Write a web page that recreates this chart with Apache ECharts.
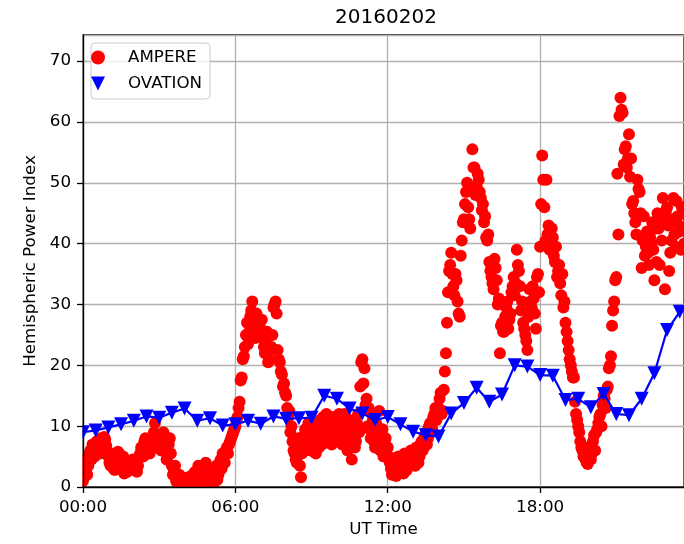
<!DOCTYPE html>
<html>
<head>
<meta charset="utf-8">
<script src="https://cdn.jsdelivr.net/npm/echarts@6/dist/echarts.min.js"></script>
<style>
  html, body { margin: 0; padding: 0; background: #ffffff; }
  #chart { width: 684px; height: 544px; }
</style>
</head>
<body>
<div id="chart"></div>
<script>
// Day shown in the title
const dateLabel = '20160202';

// AMPERE hemispheric power index (GW), samples on the 5-minute marks from 00:00 UT
const ampereStepMin = 5;
const ampereHPI = [
  1.0, 3.0, 2.0, 5.5, 4.5, 6.5, 6.0, 7.0, 5.5, 7.5, 8.2, 6.8,          // 00h
  5.0, 3.5, 4.5, 2.8, 3.2, 5.5, 4.0, 5.0, 3.0, 2.5, 4.0, 3.0,          // 01h
  3.0, 4.5, 3.5, 5.5, 6.5, 7.5, 6.0, 7.0, 8.0, 6.5, 10.5, 7.5,         // 02h
  8.5, 6.0, 9.0, 7.5, 5.0, 8.0, 3.5, 2.5, 1.0, 1.5, 0.5, 1.2,          // 03h
  0.5, 1.0, 0.3, 1.8, 0.8, 2.5, 1.2, 0.6, 3.0, 1.5, 4.0, 2.0,          // 04h
  1.0, 2.5, 0.8, 3.5, 2.0, 4.5, 5.5, 4.0, 6.5, 7.0, 8.0, 9.0,          // 05h
  10.0, 11.5, 14.0, 18.0, 21.5, 25.0, 23.5, 28.0, 30.5, 26.0, 28.5, 27.0, // 06h
  26.0, 24.5, 22.0, 25.5, 21.0, 23.0, 29.5, 30.5, 22.5, 20.5, 18.5, 17.0, // 07h
  15.0, 11.5, 9.0, 7.5, 5.5, 4.0, 8.0, 1.6, 6.5, 9.5, 7.5, 10.0,       // 08h
  6.0, 9.5, 5.5, 8.0, 11.0, 7.0, 10.0, 12.0, 8.5, 9.5, 11.5, 7.5,      // 09h
  9.0, 12.0, 10.5, 8.0, 11.0, 6.0, 9.5, 4.5, 10.0, 7.5, 12.0, 16.5,    // 10h
  21.0, 19.5, 14.5, 13.0, 8.0, 11.0, 6.5, 9.0, 12.5, 7.0, 5.0, 8.0,    // 11h
  6.5, 4.0, 2.0, 3.0, 1.8, 5.0, 2.5, 3.5, 5.5, 2.8, 4.0, 6.0,          // 12h
  4.5, 3.5, 6.0, 5.0, 7.5, 6.5, 9.0, 8.0, 10.5, 9.5, 12.0, 11.0,       // 13h
  13.0, 15.5, 12.5, 19.0, 27.0, 35.5, 38.5, 33.0, 35.0, 30.5, 28.0, 40.5, // 14h
  44.0, 48.5, 46.0, 42.5, 55.5, 52.5, 49.5, 50.5, 47.5, 46.5, 44.5, 40.5, // 15h
  37.0, 34.5, 32.5, 36.0, 30.0, 22.0, 27.0, 25.5, 29.5, 26.0, 28.5, 33.0, // 16h
  31.5, 39.0, 35.5, 29.0, 27.0, 25.0, 22.5, 32.5, 29.5, 31.0, 26.0, 35.0, // 17h
  39.5, 54.5, 46.0, 50.5, 43.0, 39.5, 41.0, 37.0, 34.5, 36.5, 31.5, 29.5, // 18h
  27.0, 24.0, 21.0, 19.0, 18.0, 12.0, 10.0, 7.5, 6.0, 5.0, 4.0, 6.5,   // 19h
  4.5, 7.5, 6.0, 9.5, 11.5, 10.0, 15.0, 13.0, 16.5, 20.0, 26.5, 30.5,  // 20h
  34.5, 41.5, 64.0, 61.5, 55.5, 52.5, 58.0, 54.0, 47.0, 43.5, 50.5, 48.5, // 21h
  36.0, 44.5, 39.5, 38.5, 41.0, 43.5, 34.0, 37.0, 42.5, 44.0, 47.5, 32.5, // 22h
  46.0, 35.5, 40.5, 47.5, 39.5, 44.5, 42.0, 46.0, 40.0                   // 23h
];

// AMPERE samples that fall halfway between the 5-minute marks (00:02:30, 00:07:30, ...)
const ampereHalfOffsetMin = 2.5;
const ampereHPIHalf = [
  2.0, 4.5, 3.5, 6.0, 7.0, 5.0, 7.5, 6.0, 8.0, 6.5, 7.8, 5.5,          // 00h
  4.0, 5.5, 3.0, 4.5, 5.8, 3.5, 4.8, 2.2, 4.0, 3.5, 2.8, 4.5,          // 01h
  3.8, 2.5, 5.0, 6.5, 5.0, 8.0, 7.0, 5.5, 7.5, 9.0, 6.5, 8.5,          // 02h
  7.0, 8.0, 6.5, 4.5, 7.0, 5.5, 2.0, 3.5, 0.8, 2.0, 1.0, 0.3,          // 03h
  1.5, 0.5, 1.0, 0.5, 2.2, 1.0, 3.5, 1.8, 0.8, 2.5, 3.0, 1.0,          // 04h
  2.0, 1.5, 3.0, 1.2, 3.8, 3.0, 5.0, 6.0, 5.5, 7.5, 8.5, 9.5,          // 05h
  11.0, 13.0, 17.5, 21.0, 23.0, 27.0, 25.5, 29.0, 27.5, 24.5, 26.5, 25.0, // 06h
  27.5, 23.0, 24.5, 20.5, 22.5, 25.0, 30.0, 28.5, 21.0, 19.0, 16.5, 15.5, // 07h
  13.0, 12.5, 10.0, 6.0, 4.5, 7.0, 3.5, 5.5, 8.5, 7.0, 10.5, 6.0,      // 08h
  8.5, 7.0, 10.0, 6.5, 9.0, 11.5, 8.0, 10.5, 11.0, 7.0, 10.0, 9.0,     // 09h
  10.5, 8.5, 7.0, 12.0, 9.0, 8.5, 7.0, 11.0, 6.5, 10.5, 9.0, 20.5,     // 10h
  17.0, 13.5, 10.0, 9.5, 12.0, 7.5, 10.5, 8.0, 6.0, 9.5, 7.5, 6.5,     // 11h
  5.0, 3.0, 2.5, 2.0, 4.0, 3.0, 4.5, 2.2, 4.0, 3.5, 5.0, 4.5,          // 12h
  5.5, 6.5, 4.0, 7.0, 6.0, 8.5, 7.0, 10.0, 9.0, 11.5, 13.0, 12.5,      // 13h
  14.5, 12.0, 16.0, 22.0, 32.0, 36.5, 35.0, 31.5, 34.0, 28.5, 38.0, 43.5, // 14h
  46.5, 50.0, 44.0, 49.0, 52.5, 48.0, 51.5, 48.5, 45.5, 43.5, 41.0, 41.5, // 15h
  35.5, 33.5, 37.5, 34.0, 31.0, 26.5, 25.5, 28.0, 30.5, 27.5, 32.0, 34.5, // 16h
  33.5, 36.5, 33.0, 30.5, 26.0, 24.0, 28.0, 30.5, 33.0, 28.5, 34.5, 32.0, // 17h
  46.5, 50.5, 40.5, 41.5, 39.0, 42.5, 38.0, 39.5, 35.5, 33.5, 35.0, 30.5, // 18h
  25.5, 22.5, 20.0, 18.0, 14.0, 11.0, 9.0, 6.5, 5.0, 4.5, 3.8, 5.5,    // 19h
  5.5, 8.5, 9.0, 10.5, 12.0, 13.5, 14.5, 16.0, 19.5, 21.5, 29.0, 34.0, // 20h
  51.5, 61.0, 62.0, 53.0, 56.0, 54.0, 51.0, 46.5, 45.0, 41.5, 49.0, 45.0, // 21h
  40.5, 38.0, 42.0, 36.5, 40.0, 39.0, 42.5, 45.0, 36.5, 40.5, 44.5, 45.5, // 22h
  43.0, 38.5, 44.0, 41.5, 47.0, 43.0, 39.0, 45.0, 41.5                   // 23h
];

// OVATION hemispheric power index (GW), one sample every 30 minutes from 00:00 UT
const ovationStepMin = 30;
const ovationHPI = [
  9.0, 9.3, 9.8, 10.3, 10.9, 11.6, 11.4, 12.2, 12.9, 10.9, 11.3, 10.1,
  10.3, 10.9, 10.4, 11.6, 11.2, 11.3, 11.4, 15.0, 14.5, 12.9, 12.1, 11.0,
  11.5, 10.3, 9.1, 8.5, 8.3, 12.1, 13.8, 16.3, 14.0, 15.2, 20.0, 19.8,
  18.4, 18.3, 14.3, 14.5, 13.1, 15.3, 12.0, 11.8, 14.5, 18.7, 25.8, 28.8
];

// Axis ticks
const xTickMinutes = [0, 360, 720, 1080];
const yTickValues = [0, 10, 20, 30, 40, 50, 60, 70];

const FONT = 'DejaVu Sans';
const TEXT_SIZE = 16.7;
const X_MAX = 1420;   // minutes of UT shown
const Y_MAX = 74.3;
const TRIANGLE_DOWN = 'path://M0,0L2,0L1,2Z';

function hhmm(minutes) {
  const h = Math.floor(minutes / 60);
  const m = Math.round(minutes % 60);
  return String(h).padStart(2, '0') + ':' + String(m).padStart(2, '0');
}

const ampereData = ampereHPI.map((v, i) => [i * ampereStepMin, v])
  .concat(ampereHPIHalf.map((v, i) => [i * ampereStepMin + ampereHalfOffsetMin, v]));
const ovationData = ovationHPI.map((v, i) => [i * ovationStepMin, v]);

const axisText = { fontFamily: FONT, fontSize: TEXT_SIZE, color: '#000000' };
const spine = { color: '#000000', width: 1.3 };
const gridLine = { color: '#b0b0b0', width: 1.3 };

const chart = echarts.init(document.getElementById('chart'), null, { renderer: 'canvas' });

chart.setOption({
  animation: false,
  backgroundColor: '#ffffff',
  textStyle: { fontFamily: FONT },
  title: {
    text: dateLabel,
    left: 386,
    top: 8,
    padding: 0,
    textAlign: 'center',
    textStyle: { fontFamily: FONT, fontSize: 20, fontWeight: 'normal', color: '#000000' }
  },
  legend: {
    orient: 'vertical',
    left: 91,
    top: 43,
    z: 20,
    itemWidth: 50,
    itemHeight: 14,
    itemGap: 9,
    padding: [6, 8, 7, 0],
    backgroundColor: 'rgba(255,255,255,0.8)',
    borderColor: '#cccccc',
    borderWidth: 1,
    borderRadius: 4,
    selectedMode: false,
    textStyle: { fontFamily: FONT, fontSize: TEXT_SIZE, color: '#000000' },
    data: [
      { name: 'AMPERE', icon: 'circle' },
      { name: 'OVATION', icon: TRIANGLE_DOWN }
    ]
  },
  grid: {
    left: 83,
    top: 35,
    right: -5,
    bottom: 57,
    show: true,
    backgroundColor: 'transparent',
    borderColor: '#000000',
    borderWidth: 1.3
  },
  // Masks that trim markers spilling past the left and bottom spines
  graphic: [
    { type: 'rect', z: 5, silent: true, shape: { x: 0, y: 28, width: 82.3, height: 472 }, style: { fill: '#ffffff' } },
    { type: 'rect', z: 5, silent: true, shape: { x: 82, y: 487.8, width: 610, height: 11 }, style: { fill: '#ffffff' } }
  ],
  xAxis: [
    {
      type: 'value',
      min: 0,
      max: X_MAX,
      interval: 360,
      z: 10,
      name: 'UT Time',
      nameLocation: 'middle',
      nameGap: 34,
      nameTextStyle: axisText,
      axisLine: { show: true, onZero: false, lineStyle: spine },
      axisTick: { show: true, inside: false, length: 6, lineStyle: spine, customValues: xTickMinutes },
      axisLabel: { customValues: xTickMinutes, formatter: hhmm, margin: 12, ...axisText },
      splitLine: { show: false }
    },
    {
      type: 'value',
      position: 'top',
      min: 0,
      max: X_MAX,
      interval: 360,
      z: 0,
      axisLine: { show: false },
      axisTick: { show: false },
      axisLabel: { show: false },
      splitLine: { show: true, lineStyle: gridLine }
    }
  ],
  yAxis: [
    {
      type: 'value',
      min: 0,
      max: Y_MAX,
      interval: 10,
      z: 10,
      name: 'Hemispheric Power Index',
      nameLocation: 'middle',
      nameGap: 41,
      nameTextStyle: axisText,
      axisLine: { show: true, onZero: false, lineStyle: spine },
      axisTick: { show: true, inside: false, length: 6, lineStyle: spine, customValues: yTickValues },
      axisLabel: { customValues: yTickValues, margin: 12, ...axisText },
      splitLine: { show: false }
    },
    {
      type: 'value',
      position: 'right',
      min: 0,
      max: Y_MAX,
      interval: 10,
      z: 0,
      axisLine: { show: false },
      axisTick: { show: false },
      axisLabel: { show: false },
      splitLine: { show: true, lineStyle: gridLine }
    }
  ],
  series: [
    {
      name: 'AMPERE',
      type: 'scatter',
      xAxisIndex: 0,
      yAxisIndex: 0,
      data: ampereData,
      symbol: 'circle',
      symbolSize: 12,
      itemStyle: { color: '#ff0000', opacity: 1 },
      z: 2,
      silent: true
    },
    {
      name: 'OVATION',
      type: 'line',
      xAxisIndex: 0,
      yAxisIndex: 0,
      data: ovationData,
      symbol: TRIANGLE_DOWN,
      symbolSize: 14,
      showSymbol: true,
      showAllSymbol: true,
      itemStyle: { color: '#0000ff' },
      lineStyle: { color: '#0000ff', width: 2.2 },
      z: 3,
      silent: true
    }
  ]
});
</script>
</body>
</html>
